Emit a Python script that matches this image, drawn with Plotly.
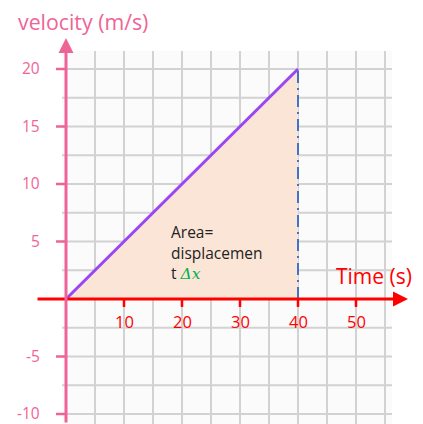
import plotly.graph_objects as go

# ---- data ----
t_vals = [0, 40]
v_vals = [0, 20]
x_tick_vals = [10, 20, 30, 40, 50]
x_tick_text = ["10", "20", "30", "40", "50"]
y_tick_vals = [20, 15, 10, 5, -5, -10]
y_tick_text = ["20", "15", "10", "5", "-5", "-10"]
grid_x = [5, 10, 15, 20, 25, 30, 35, 40, 45, 50, 55]
grid_y = [-10, -7.5, -5, -2.5, 2.5, 5, 7.5, 10, 12.5, 15, 17.5, 20]

# ---- geometry (screen pixel mapping; page body has an 8px margin) ----
OFF = 8
W, H = 423 - OFF, 424 - OFF
X0PX, XS = 66, 5.8      # screen px of x=0, px per unit
Y0PX, YS = 299, 11.5    # screen px of y=0, px per unit
xr = [(OFF - X0PX) / XS, (OFF + W - X0PX) / XS]
yr = [(Y0PX - OFF - H) / YS, (Y0PX - OFF) / YS]

def px2x(p):
    return (p - X0PX) / XS

def py2y(p):
    return (Y0PX - p) / YS

PINK = "#EF6497"
RED = "#FF0000"
PURPLE = "#9B45F5"
BLUE = "#4472C4"
FILL = "#FBE5D6"
GRID = "#D2D2D2"
FONT = "Open Sans"

g_left, g_right = px2x(62), px2x(392)
g_top, g_bottom = py2y(51), yr[0]

fig = go.Figure()

shapes = [dict(type="rect", xref="x", yref="y", x0=g_left, x1=g_right, y0=g_bottom, y1=g_top,
               fillcolor="#FBFBFB", line=dict(width=0), layer="below")]
for gx in grid_x:
    shapes.append(dict(type="line", xref="x", yref="y", x0=gx, x1=gx, y0=g_bottom, y1=g_top,
                       line=dict(color=GRID, width=2), layer="below"))
for gy in grid_y:
    shapes.append(dict(type="line", xref="x", yref="y", x0=g_left, x1=g_right, y0=gy, y1=gy,
                       line=dict(color=GRID, width=2), layer="below"))

# area fill
fig.add_trace(go.Scatter(x=[t_vals[0], t_vals[1], t_vals[1], t_vals[0]],
                         y=[v_vals[0], v_vals[0], v_vals[1], v_vals[0]],
                         fill="toself", fillcolor=FILL, mode="lines",
                         line=dict(width=0), hoverinfo="skip"))
# dash-dot line at t=40
fig.add_trace(go.Scatter(x=[t_vals[1], t_vals[1]], y=[0, v_vals[1]], mode="lines",
                         line=dict(color=BLUE, width=2, dash="12px,5px,2px,5px"),
                         hoverinfo="skip"))
# velocity line
fig.add_trace(go.Scatter(x=t_vals, y=v_vals, mode="lines",
                         line=dict(color=PURPLE, width=3), hoverinfo="skip"))

# tick marks
for tx in x_tick_vals:
    shapes.append(dict(type="line", xref="x", yref="y", x0=tx, x1=tx, y0=0, y1=py2y(307),
                       line=dict(color=RED, width=2.5)))
for ty in y_tick_vals:
    shapes.append(dict(type="line", xref="x", yref="y", x0=px2x(56), x1=0, y0=ty, y1=ty,
                       line=dict(color=PINK, width=2.5)))

annotations = []
# axes arrows
annotations.append(dict(x=px2x(408), y=0, ax=px2x(36), ay=0, xref="x", yref="y",
                        axref="x", ayref="y", showarrow=True, arrowhead=2, arrowsize=1,
                        arrowwidth=3, arrowcolor=RED, text=""))
annotations.append(dict(x=0, y=py2y(38), ax=0, ay=yr[0], xref="x", yref="y",
                        axref="x", ayref="y", showarrow=True, arrowhead=2, arrowsize=1,
                        arrowwidth=3, arrowcolor=PINK, text=""))
# tick labels
for tx, tt in zip(x_tick_vals, x_tick_text):
    annotations.append(dict(x=tx, y=py2y(321), text=tt, showarrow=False, xanchor="center",
                            yanchor="middle", font=dict(family=FONT, size=16.5, color=RED)))
for ty, tt in zip(y_tick_vals, y_tick_text):
    annotations.append(dict(x=px2x(41), y=ty, text=tt, showarrow=False, xanchor="right",
                            yanchor="middle", borderpad=0, yshift=1,
                            font=dict(family=FONT, size=15.5, color=PINK)))
# titles
annotations.append(dict(x=px2x(16), y=py2y(21), text="velocity (m/s)", showarrow=False,
                        xanchor="left", yanchor="middle",
                        font=dict(family=FONT, size=21.3, color=PINK)))
annotations.append(dict(x=px2x(334), y=py2y(276), text="Time (s)", showarrow=False,
                        xanchor="left", yanchor="middle",
                        font=dict(family=FONT, size=21, color=RED)))
# area text
area_lines = ["Area=", "displacemen",
              "t <span style='color:#00B050;font-family:DejaVu Serif'><i>\u0394x</i></span>"]
area_py = [232, 253, 273]
for ln, p in zip(area_lines, area_py):
    annotations.append(dict(x=px2x(169), y=py2y(p), text=ln, showarrow=False,
                            xanchor="left", yanchor="middle",
                            font=dict(family=FONT, size=15.5, color="#222222")))

fig.update_layout(
    width=W, height=H, margin=dict(l=0, r=0, t=0, b=0),
    paper_bgcolor="white", plot_bgcolor="white", showlegend=False,
    xaxis=dict(range=xr, visible=False, fixedrange=True),
    yaxis=dict(range=yr, visible=False, fixedrange=True),
    shapes=shapes, annotations=annotations,
)
fig.write_html("out.html")
